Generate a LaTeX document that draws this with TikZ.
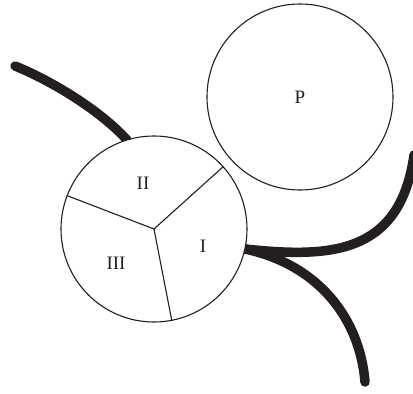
\documentclass[tikz,border=0pt]{standalone}
\usepackage{fontspec}
\setmainfont{Liberation Serif}
\definecolor{ink}{RGB}{35,31,32}

\begin{document}
\begin{tikzpicture}[x=1pt,y=-1pt,
    disc/.style={circle,draw=ink,fill=white,line width=1.1pt,minimum size=186pt,inner sep=0pt},
    rope/.style={draw=ink,line width=9.5pt,line cap=round},
    lab/.style={text=ink,font=\fontsize{19}{20}\selectfont}]
        % 画布范围
        \useasboundingbox (0,0) rectangle (413,394);

        % 端点
        \coordinate (ropeA) at (15,66);
        \coordinate (ropeB) at (414,155);
        \coordinate (ropeC) at (365,382);

        % 粗线（先画，圆盖在上面）
        \draw[rope] (ropeA) .. controls (50,80) and (100,110) .. (127,140);
        \draw[rope] (245,249) .. controls (330,258) and (400,255) .. (ropeB);
        \draw[rope] (245,249) .. controls (320,265) and (360,320) .. (ropeC);

        % 两个圆
        \node[disc] (sectors) at (154,229) {};
        \node[disc,lab] (pcirc) at (300,97) {P};

        % 分区线
        \draw[ink,line width=1.1pt] (sectors.center) -- (sectors.42);
        \draw[ink,line width=1.1pt] (sectors.center) -- (sectors.159);
        \draw[ink,line width=1.1pt] (sectors.center) -- (sectors.-79);

        % 标注
        \node[lab] (secI) at (203,246) {I};
        \node[lab] (secII) at (143,183) {II};
        \node[lab] (secIII) at (116,263) {III};
\end{tikzpicture}
\end{document}
